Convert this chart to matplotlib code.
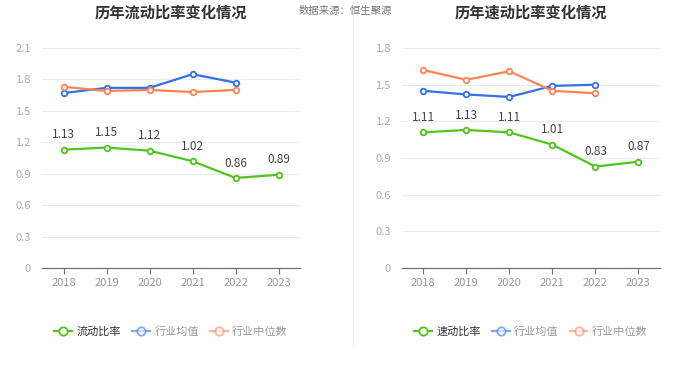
import matplotlib
matplotlib.use('Agg')
import matplotlib.pyplot as plt

plt.rcParams['font.family'] = ['Noto Sans CJK SC', 'DejaVu Sans']

years = ['2018', '2019', '2020', '2021', '2022', '2023']

# 流动比率
current_ratio = [1.13, 1.15, 1.12, 1.02, 0.86, 0.89]
current_mean = [1.67, 1.72, 1.72, 1.85, 1.77]
current_median = [1.73, 1.69, 1.70, 1.68, 1.70]

# 速动比率
quick_ratio = [1.11, 1.13, 1.11, 1.01, 0.83, 0.87]
quick_mean = [1.45, 1.42, 1.40, 1.49, 1.50]
quick_median = [1.62, 1.54, 1.61, 1.45, 1.43]

green = '#52c41a'
blue = '#3370eb'
orange = '#ff8454'

fig = plt.figure(figsize=(7, 3.77), dpi=100)


def draw(ax, main, mean, median, main_name, title, ymax, yticks):
    x = list(range(len(years)))
    mk = dict(marker='o', markersize=4, markerfacecolor='white', markeredgewidth=1.3)
    ax.plot(x, main, color=green, lw=1.6, label=main_name, zorder=4, **mk)
    ax.plot(x[:len(mean)], mean, color=blue, lw=1.6, label='行业均值', zorder=3, **mk)
    ax.plot(x[:len(median)], median, color=orange, lw=1.6, label='行业中位数', zorder=3, **mk)
    for xi, v in zip(x, main):
        ax.annotate('%.2f' % v, (xi, v), xytext=(0, 6), textcoords='offset points',
                    ha='center', va='bottom', fontsize=8.5, color='#444444')
    ax.set_xlim(-0.5, len(years) - 0.5)
    ax.set_ylim(0, ymax)
    ax.set_xticks(x)
    ax.set_xticklabels(years)
    ax.set_yticks(yticks)
    ax.set_yticklabels(['0' if t == 0 else '%.1f' % t for t in yticks])
    ax.tick_params(axis='x', colors='#6e7079', labelcolor='#999999', labelsize=8,
                   length=4, width=0.8)
    ax.tick_params(axis='y', length=0, labelcolor='#aaaaaa', labelsize=8, pad=8)
    ax.grid(axis='y', color='#e6ebf5', lw=0.8)
    ax.set_axisbelow(True)
    for s in ['top', 'right', 'left']:
        ax.spines[s].set_visible(False)
    ax.spines['bottom'].set_color('#6e7079')
    ax.spines['bottom'].set_linewidth(0.9)
    ax.set_title(title, fontsize=11, fontweight='bold', color='#333333', pad=0, y=1.14)
    leg = ax.legend(loc='center', bbox_to_anchor=(0.5, -0.287), ncol=3, frameon=False,
                    fontsize=8, handlelength=1.6, handletextpad=0.4, columnspacing=1.0)
    for i, t in enumerate(leg.get_texts()):
        t.set_color('#333333' if i == 0 else '#999999')
    for i, h in enumerate(leg.get_lines()):
        h.set_markersize(6)
        if i > 0:
            h.set_alpha(0.6)


ax1 = fig.add_axes([0.06, 0.289, 0.3686, 0.5836])
draw(ax1, current_ratio, current_mean, current_median, '流动比率', '历年流动比率变化情况',
     2.1, [0, 0.3, 0.6, 0.9, 1.2, 1.5, 1.8, 2.1])

ax2 = fig.add_axes([0.574, 0.289, 0.3686, 0.5836])
draw(ax2, quick_ratio, quick_mean, quick_median, '速动比率', '历年速动比率变化情况',
     1.8, [0, 0.3, 0.6, 0.9, 1.2, 1.5, 1.8])

fig.text(0.426, 0.972, '数据来源：恒生聚源', fontsize=7.5, color='#777777', va='center', ha='left')
fig.add_artist(plt.Line2D([0.504, 0.504], [0.08, 1.0], color='#eeeeee', lw=0.8))

fig.savefig('out.png', dpi=100)
